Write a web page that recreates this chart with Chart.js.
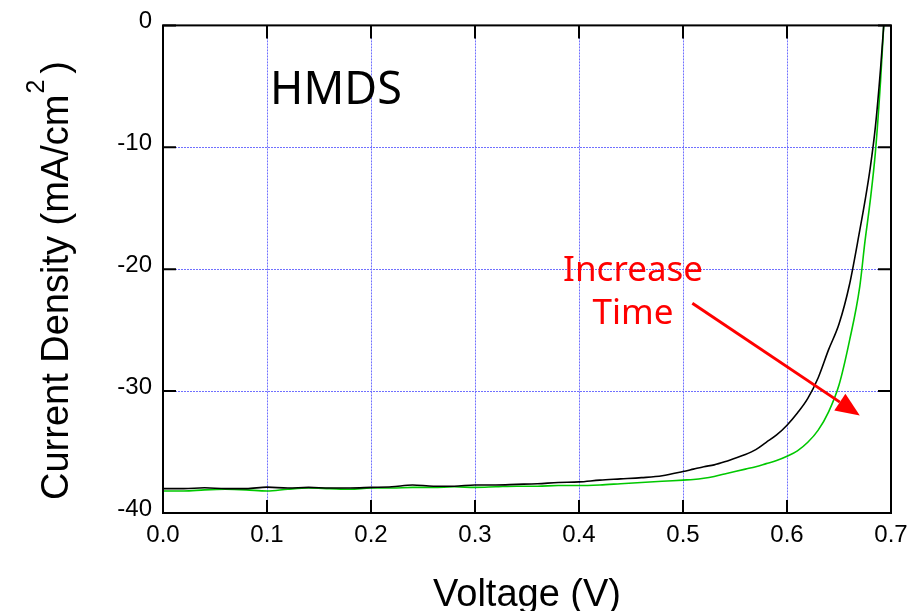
<!DOCTYPE html>
<html>
<head>
<meta charset="utf-8">
<script src="https://cdn.jsdelivr.net/npm/chart.js@4.4.1/dist/chart.umd.min.js"></script>
<style>
  html, body { margin: 0; padding: 0; background: #fff; }
  #wrap { width: 924px; height: 611px; }
</style>
</head>
<body>
<div id="wrap"><canvas id="jvChart" width="924" height="611"></canvas></div>
<script>
const voltage = [0, 0.02, 0.04, 0.06, 0.08, 0.10, 0.12, 0.14, 0.16, 0.18, 0.20, 0.22, 0.24, 0.26, 0.28,
  0.30, 0.32, 0.34, 0.36, 0.38, 0.40, 0.42, 0.44, 0.46, 0.48, 0.50, 0.51, 0.52, 0.53, 0.54, 0.55,
  0.56, 0.57, 0.58, 0.59, 0.60, 0.61, 0.62, 0.63, 0.64, 0.65, 0.66, 0.67, 0.675, 0.68, 0.685, 0.69, 0.693];

const currentBlack = [-38.0, -38.0, -37.93, -38.0, -38.0, -37.88, -37.95, -37.9, -37.95, -37.95, -37.9, -37.85,
  -37.7, -37.8, -37.8, -37.7, -37.7, -37.65, -37.6, -37.5, -37.45, -37.3, -37.2, -37.1, -36.95, -36.6,
  -36.4, -36.2, -36.05, -35.8, -35.5, -35.2, -34.8, -34.2, -33.6, -32.8, -31.8, -30.6, -28.9, -26.6,
  -24.5, -21.3, -16.8, -14.4, -11.7, -8.3, -3.5, 0];

const currentGreen = [-38.2, -38.2, -38.1, -38.05, -38.1, -38.2, -38.05, -37.95, -38.0, -38.05, -37.95, -37.95,
  -37.9, -37.9, -37.85, -37.9, -37.85, -37.8, -37.8, -37.75, -37.75, -37.7, -37.6, -37.5, -37.4, -37.3,
  -37.25, -37.15, -37.0, -36.8, -36.6, -36.4, -36.2, -35.95, -35.7, -35.35, -34.9, -34.2, -33.2, -31.7,
  -29.5, -25.9, -21.4, -17.7, -14.4, -10.4, -4.5, 0];

const xTicks = [0, 0.1, 0.2, 0.3, 0.4, 0.5, 0.6, 0.7];
const yTicks = [0, -10, -20, -30, -40];

// annotation anchors, in data units
const sampleLabel = { text: 'HMDS', x: 0.103, y: -6.45 };
const trendLabel = { lines: ['Increase', 'Time'], x: 0.452, y: [-21.0, -24.5] };
const trendArrow = { from: [0.509, -22.8], to: [0.670, -32.0] };

function toPoints(xs, ys) {
  return xs.map((x, i) => ({ x, y: ys[i] }));
}

// dotted blue grid, drawn under the curves
const gridPlugin = {
  id: 'dottedGrid',
  beforeDatasetsDraw(chart) {
    const { ctx, chartArea: a, scales: { x, y } } = chart;
    ctx.save();
    ctx.strokeStyle = '#7070ff';
    ctx.lineWidth = 1;
    ctx.setLineDash([2, 1]);
    ctx.beginPath();
    xTicks.slice(1, -1).forEach(v => {
      const px = Math.round(x.getPixelForValue(v)) + 0.5;
      ctx.moveTo(px, a.top); ctx.lineTo(px, a.bottom);
    });
    yTicks.slice(1, -1).forEach(v => {
      const py = Math.round(y.getPixelForValue(v)) + 0.5;
      ctx.moveTo(a.left, py); ctx.lineTo(a.right, py);
    });
    ctx.stroke();
    ctx.restore();
  }
};

const framePlugin = {
  id: 'frame',
  afterDraw(chart) {
    const { ctx, chartArea: a, scales: { x, y } } = chart;
    ctx.save();

    // inward ticks on all four sides
    ctx.strokeStyle = '#000';
    ctx.lineWidth = 2;
    ctx.beginPath();
    xTicks.forEach(v => {
      const px = x.getPixelForValue(v);
      ctx.moveTo(px, a.bottom); ctx.lineTo(px, a.bottom - 13);
      ctx.moveTo(px, a.top); ctx.lineTo(px, a.top + 13);
    });
    yTicks.forEach(v => {
      const py = y.getPixelForValue(v);
      ctx.moveTo(a.left, py); ctx.lineTo(a.left + 13, py);
      ctx.moveTo(a.right, py); ctx.lineTo(a.right - 13, py);
    });
    ctx.stroke();
    ctx.strokeRect(a.left, a.top, a.right - a.left, a.bottom - a.top);

    // axis titles
    ctx.fillStyle = '#000';
    ctx.font = '38px "Liberation Sans", Arial, sans-serif';
    ctx.textAlign = 'center';
    ctx.textBaseline = 'alphabetic';
    ctx.fillText('Voltage (V)', (a.left + a.right) / 2, 606);

    ctx.save();
    ctx.translate(68, 500);
    ctx.rotate(-Math.PI / 2);
    ctx.textAlign = 'left';
    const main = 'Current Density (mA/cm';
    ctx.fillText(main, 0, 0);
    let w = ctx.measureText(main).width;
    ctx.font = '25px "Liberation Sans", Arial, sans-serif';
    ctx.fillText('2', w + 1, -24);
    w += ctx.measureText('2').width + 7;
    ctx.font = '38px "Liberation Sans", Arial, sans-serif';
    ctx.fillText(')', w, 0);
    ctx.restore();

    // text annotations
    ctx.font = '45px "Noto Sans", "Open Sans", sans-serif';
    ctx.textAlign = 'left';
    ctx.fillText(sampleLabel.text, x.getPixelForValue(sampleLabel.x), y.getPixelForValue(sampleLabel.y));

    ctx.fillStyle = '#ff0000';
    ctx.font = '35px "Noto Sans", "Open Sans", sans-serif';
    ctx.textAlign = 'center';
    trendLabel.lines.forEach((line, i) => {
      ctx.fillText(line, x.getPixelForValue(trendLabel.x), y.getPixelForValue(trendLabel.y[i]));
    });

    // arrow
    const x0 = x.getPixelForValue(trendArrow.from[0]);
    const y0 = y.getPixelForValue(trendArrow.from[1]);
    const x1 = x.getPixelForValue(trendArrow.to[0]);
    const y1 = y.getPixelForValue(trendArrow.to[1]);
    const ang = Math.atan2(y1 - y0, x1 - x0);
    const headLen = 24, headW = 10;
    const bx = x1 - headLen * Math.cos(ang);
    const by = y1 - headLen * Math.sin(ang);
    ctx.strokeStyle = '#ff0000';
    ctx.lineWidth = 3;
    ctx.beginPath();
    ctx.moveTo(x0, y0);
    ctx.lineTo(bx, by);
    ctx.stroke();
    ctx.beginPath();
    ctx.moveTo(x1, y1);
    ctx.lineTo(bx + headW * Math.sin(ang), by - headW * Math.cos(ang));
    ctx.lineTo(bx - headW * Math.sin(ang), by + headW * Math.cos(ang));
    ctx.closePath();
    ctx.fill();

    ctx.restore();
  }
};

const ctx = document.getElementById('jvChart').getContext('2d');
new Chart(ctx, {
  type: 'line',
  data: {
    datasets: [
      {
        data: toPoints(voltage, currentBlack),
        borderColor: '#000000', borderWidth: 1.6,
        pointRadius: 0, cubicInterpolationMode: 'monotone'
      },
      {
        data: toPoints(voltage, currentGreen),
        borderColor: '#00c800', borderWidth: 1.6,
        pointRadius: 0, cubicInterpolationMode: 'monotone'
      }
    ]
  },
  options: {
    responsive: false, animation: false,
    layout: { padding: { left: 0, top: 23, right: 33, bottom: 0 } },
    plugins: { legend: { display: false }, tooltip: { enabled: false } },
    scales: {
      x: {
        type: 'linear', min: 0, max: 0.7,
        afterFit: (scale) => { scale.height = 98; },
        afterBuildTicks: (scale) => { scale.ticks = xTicks.map(v => ({ value: v })); },
        grid: { display: false, drawTicks: false },
        border: { display: false },
        ticks: {
          padding: 8, color: '#000',
          font: { family: '"Liberation Sans", Arial, sans-serif', size: 24 },
          callback: (v) => v.toFixed(1)
        }
      },
      y: {
        type: 'linear', min: -40, max: 0,
        afterFit: (scale) => { scale.width = 163; },
        afterBuildTicks: (scale) => { scale.ticks = yTicks.map(v => ({ value: v })); },
        grid: { display: false, drawTicks: false },
        border: { display: false },
        ticks: {
          padding: 11, color: '#000', labelOffset: -4,
          font: { family: '"Liberation Sans", Arial, sans-serif', size: 24 },
          callback: (v) => String(v)
        }
      }
    }
  },
  plugins: [gridPlugin, framePlugin]
});
</script>
</body>
</html>
